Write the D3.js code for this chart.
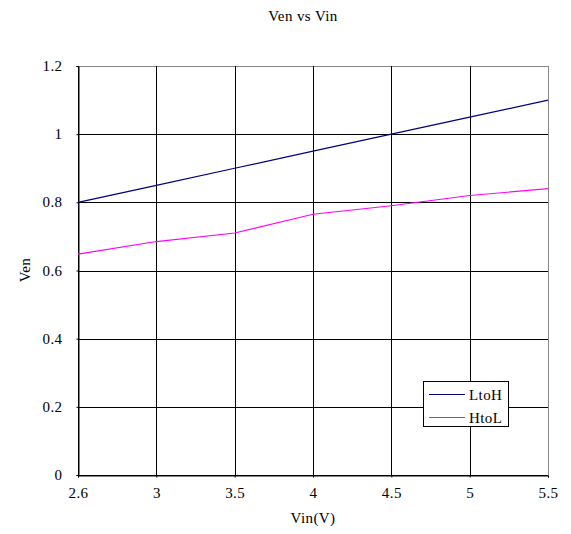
<!DOCTYPE html>
<html><head><meta charset="utf-8">
<script src="https://cdn.jsdelivr.net/npm/d3@7"></script>
<style>body{margin:0;background:#fff}svg{display:block}text{font-family:"Liberation Serif","DejaVu Serif",serif;fill:#000;letter-spacing:0.4px}</style>
</head><body><svg id="c" width="571" height="534"></svg>
<script>
const categories = ["2.6","3","3.5","4","4.5","5","5.5"];
const ltoh = [0.80,0.85,0.90,0.95,1.00,1.05,1.10];
const htol = [0.648,0.685,0.71,0.765,0.79,0.82,0.84];
const yTicks = [0,0.2,0.4,0.6,0.8,1,1.2];
const seriesNames = ["LtoH","HtoL"];
const seriesColors = ["#000080","#FF00FF"];

const svg = d3.select("#c");
const L=78,R=548,T=66,B=475;
const x = d3.scalePoint().domain(categories).range([L,R]);
const y = d3.scaleLinear().domain([0,1.2]).range([B,T]);
const FS = "15px";
const FF = "'Liberation Serif','DejaVu Serif',serif";

// grid
svg.append("g").selectAll("line").data(yTicks).join("line")
  .attr("x1",L).attr("x2",R).attr("y1",d=>Math.round(y(d))+0.5).attr("y2",d=>Math.round(y(d))+0.5)
  .attr("stroke",d=>d===1.2?"#888":"#000").attr("stroke-width",1);
svg.append("g").selectAll("line").data(categories).join("line")
  .attr("y1",T).attr("y2",B).attr("x1",d=>Math.round(x(d))+0.5).attr("x2",d=>Math.round(x(d))+0.5)
  .attr("stroke",(d,i)=>i===categories.length-1?"#888":"#000").attr("stroke-width",1);

// axes
const ya = svg.append("g").attr("transform",`translate(${L+0.5},0)`)
  .call(d3.axisLeft(y).tickValues(yTicks).tickSize(2).tickPadding(14).tickFormat(d=>String(d)));
ya.attr("font-family",FF).attr("font-size",FS);
ya.selectAll("text").style("font-family",FF).style("font-size",FS).attr("dy","0.3em");
const xa = svg.append("g").attr("transform",`translate(0,${B+0.5})`)
  .call(d3.axisBottom(x).tickSize(2).tickPadding(10));
xa.attr("font-family",FF).attr("font-size",FS);
xa.selectAll("text").style("font-family",FF).style("font-size",FS);
svg.selectAll(".domain").attr("stroke","#000");
svg.selectAll(".tick line").attr("stroke","#000");

// lines
const line = d3.line().x((d,i)=>x(categories[i])).y(d=>y(d));
[ltoh,htol].forEach((s,k)=>{
  svg.append("path").datum(s).attr("d",line).attr("fill","none")
    .attr("stroke",seriesColors[k]).attr("stroke-width",1.2);
});

// titles
svg.append("text").attr("x",303).attr("y",21).attr("text-anchor","middle").style("font-size",FS).text("Ven vs Vin");
svg.append("text").attr("x",313).attr("y",523).attr("text-anchor","middle").style("font-size",FS).text("Vin(V)");
svg.append("text").attr("transform","translate(30,270) rotate(-90)").attr("text-anchor","middle").style("font-size",FS).text("Ven");

// legend
const lg = svg.append("g");
lg.append("rect").attr("x",423.5).attr("y",381.5).attr("width",85).attr("height",45).attr("fill","#fff").attr("stroke","#000");
seriesNames.forEach((n,k)=>{
  const yy = 394.5 + k*23;
  lg.append("line").attr("x1",429).attr("x2",465).attr("y1",yy).attr("y2",yy).attr("stroke",seriesColors[k]).attr("stroke-width",1.2);
  lg.append("text").attr("x",469).attr("y",yy+5).style("font-size",FS).text(n);
});
</script></body></html>
